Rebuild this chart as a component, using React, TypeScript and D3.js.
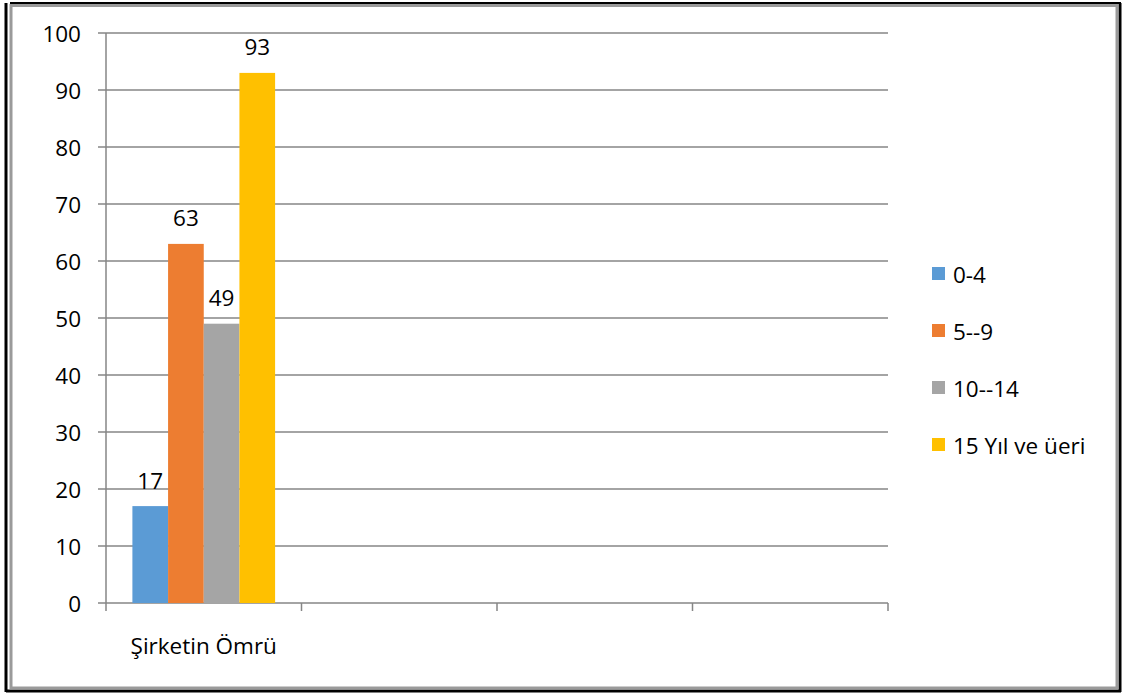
import React from "react";
import * as d3 from "d3";

const categories = ["Şirketin Ömrü", "", "", ""];
const seriesNames = ["0-4", "5--9", "10--14", "15 Yıl ve üeri"];
const seriesColors = ["#5B9BD5", "#ED7D31", "#A5A5A5", "#FFC000"];
const values0 = [17]; // 0-4
const values1 = [63]; // 5--9
const values2 = [49]; // 10--14
const values3 = [93]; // 15 Yıl ve üeri
const seriesValues = [values0, values1, values2, values3];
const yTicks = [0, 10, 20, 30, 40, 50, 60, 70, 80, 90, 100];

const W = 1129;
const H = 693;
const FONT = "'Open Sans', sans-serif";
const FS = 22.5;

export default function App() {
  const left = 106, right = 888, top = 33, bottom = 603;
  const y = d3.scaleLinear().domain([0, 100]).range([bottom, top]);
  const x0 = d3
    .scaleBand<number>()
    .domain(categories.map((_, i) => i))
    .range([left, right])
    .paddingInner(0)
    .paddingOuter(0);
  const bw = x0.bandwidth();
  const x1 = d3
    .scaleBand<number>()
    .domain(seriesNames.map((_, i) => i))
    .range([0, bw])
    .paddingOuter(0.74)
    .paddingInner(0);
  const gridColor = "#868686";

  return (
    <svg
      width={W}
      height={H}
      style={{ position: "absolute", left: 0, top: 0, background: "#fff" }}
      fontFamily={FONT}
    >
      {/* frame */}
      <rect x={0} y={0} width={W} height={H} fill="#fff" />
      <line x1={6} y1={3} x2={6} y2={692} stroke="#000" strokeWidth={3} />
      <line x1={10} y1={3} x2={1121} y2={3} stroke="#000" strokeWidth={2} />
      <line x1={1120} y1={3} x2={1120} y2={692} stroke="#000" strokeWidth={3} />
      <line x1={6} y1={691} x2={1121} y2={691} stroke="#000" strokeWidth={3} />
      <rect x={11} y={5.5} width={1106} height={682.5} fill="none" stroke="#9a9a9a" strokeWidth={3} />

      {/* gridlines */}
      {yTicks.map((t) => (
        <line key={"g" + t} x1={98} x2={right} y1={y(t)} y2={y(t)} stroke={gridColor} strokeWidth={1.5} />
      ))}
      {/* y axis */}
      <line x1={left} x2={left} y1={top} y2={bottom + 8} stroke={gridColor} strokeWidth={1.5} />
      {yTicks.map((t) => (
        <text
          key={"yt" + t}
          x={81}
          y={y(t)}
          textAnchor="end"
          dominantBaseline="central"
          fontSize={FS}
          fill="#000"
        >
          {t}
        </text>
      ))}
      {/* x ticks */}
      {categories.map((_, i) => (
        <line
          key={"xt" + i}
          x1={(x0(i) as number) + bw}
          x2={(x0(i) as number) + bw}
          y1={bottom}
          y2={bottom + 8}
          stroke={gridColor}
          strokeWidth={1.5}
        />
      ))}
      {categories.map((c, i) => (
        <text
          key={"xl" + i}
          x={(x0(i) as number) + bw / 2}
          y={645}
          textAnchor="middle"
          dominantBaseline="central"
          fontSize={FS}
          fill="#000"
        >
          {c}
        </text>
      ))}

      {/* bars */}
      {categories.map((_, ci) =>
        seriesValues.map((vals, si) => {
          const v = vals[ci];
          if (v === undefined) return null;
          const bx = (x0(ci) as number) + (x1(si) as number);
          return (
            <g key={`b${ci}-${si}`}>
              <rect x={bx} y={y(v)} width={x1.bandwidth()} height={bottom - y(v)} fill={seriesColors[si]} />
              <text
                x={bx + x1.bandwidth() / 2}
                y={y(v) - 26}
                textAnchor="middle"
                dominantBaseline="central"
                fontSize={FS}
                fill="#000"
              >
                {v}
              </text>
            </g>
          );
        })
      )}

      {/* legend */}
      {seriesNames.map((n, i) => {
        const cy = 274 + i * 57;
        return (
          <g key={"l" + i}>
            <rect x={932} y={cy - 7} width={13} height={13} fill={seriesColors[i]} />
            <text x={953} y={cy} dominantBaseline="central" fontSize={FS} fill="#000">
              {n}
            </text>
          </g>
        );
      })}
    </svg>
  );
}
